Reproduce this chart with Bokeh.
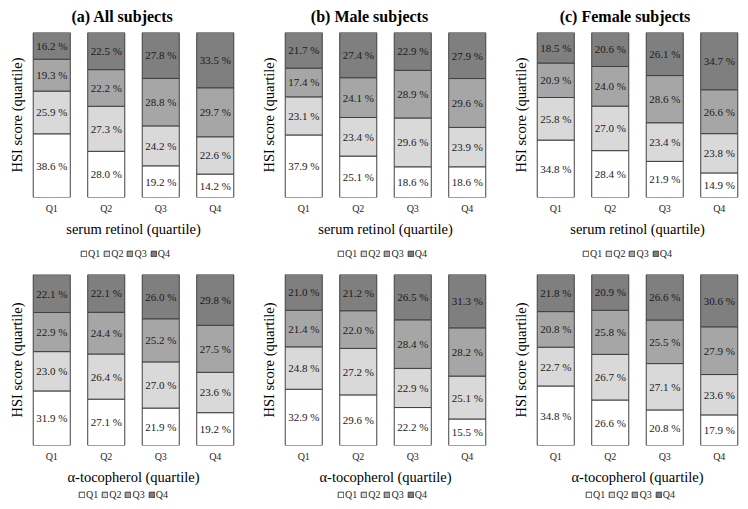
from bokeh.plotting import figure
from bokeh.layouts import column, row, Spacer
from bokeh.models import ColumnDataSource, Range1d, FixedTicker, Legend, LegendItem
from bokeh.core.properties import value
from bokeh.embed import file_html
from bokeh.resources import INLINE

exposure_quartiles = ["Q1", "Q2", "Q3", "Q4"]
hsi_quartiles = ["Q1", "Q2", "Q3", "Q4"]

# Each list: share (%) of an HSI-score quartile within exposure quartiles Q1..Q4
# (a) All subjects, serum retinol
a_hsi_q1 = [38.6, 28.0, 19.2, 14.2]
a_hsi_q2 = [25.9, 27.3, 24.2, 22.6]
a_hsi_q3 = [19.3, 22.2, 28.8, 29.7]
a_hsi_q4 = [16.2, 22.5, 27.8, 33.5]
# (b) Male subjects, serum retinol
b_hsi_q1 = [37.9, 25.1, 18.6, 18.6]
b_hsi_q2 = [23.1, 23.4, 29.6, 23.9]
b_hsi_q3 = [17.4, 24.1, 28.9, 29.6]
b_hsi_q4 = [21.7, 27.4, 22.9, 27.9]
# (c) Female subjects, serum retinol
c_hsi_q1 = [34.8, 28.4, 21.9, 14.9]
c_hsi_q2 = [25.8, 27.0, 23.4, 23.8]
c_hsi_q3 = [20.9, 24.0, 28.6, 26.6]
c_hsi_q4 = [18.5, 20.6, 26.1, 34.7]
# All subjects, alpha-tocopherol
d_hsi_q1 = [31.9, 27.1, 21.9, 19.2]
d_hsi_q2 = [23.0, 26.4, 27.0, 23.6]
d_hsi_q3 = [22.9, 24.4, 25.2, 27.5]
d_hsi_q4 = [22.1, 22.1, 26.0, 29.8]
# Male subjects, alpha-tocopherol
e_hsi_q1 = [32.9, 29.6, 22.2, 15.5]
e_hsi_q2 = [24.8, 27.2, 22.9, 25.1]
e_hsi_q3 = [21.4, 22.0, 28.4, 28.2]
e_hsi_q4 = [21.0, 21.2, 26.5, 31.3]
# Female subjects, alpha-tocopherol
f_hsi_q1 = [34.8, 26.6, 20.8, 17.9]
f_hsi_q2 = [22.7, 26.7, 27.1, 23.6]
f_hsi_q3 = [20.8, 25.8, 25.5, 27.9]
f_hsi_q4 = [21.8, 20.9, 26.6, 30.6]

titles = ["(a) All subjects", "(b) Male subjects", "(c) Female subjects"]
x_labels = ["serum retinol (quartile)", "\u03b1-tocopherol (quartile)"]
y_label = "HSI score (quartile)"

colors = ["#ffffff", "#d9d9d9", "#a6a6a6", "#7f7f7f"]
OUTLINE = "#404040"
SERIF = "Liberation Serif"
BAR_W = 0.68


def blank_figure(width, height):
    p = figure(width=width, height=height, x_range=Range1d(0, 1),
               y_range=Range1d(0, 1), x_axis_type=None, y_axis_type=None,
               output_backend="svg", toolbar_location=None, tools="",
               min_border=0)
    p.outline_line_color = None
    p.background_fill_color = None
    p.border_fill_color = None
    p.grid.visible = False
    return p


def make_title(text, width, height):
    p = blank_figure(width, height)
    p.text(x=[0.5], y=[0.5], text=[text], text_align="center",
           text_baseline="middle", text_font=value(SERIF),
           text_font_size="16px", text_font_style="bold", text_color="#000000")
    return p


def make_panel(series, xlabel, width, right, frame_h, top):
    keys = ["h1", "h2", "h3", "h4"]
    data = {"x": list(range(len(exposure_quartiles)))}
    for k, s in zip(keys, series):
        data[k] = s
    src = ColumnDataSource(data)

    bottom = 42
    p = figure(width=width, height=top + frame_h + bottom,
               x_range=Range1d(-0.5, 3.5), y_range=Range1d(0, 100),
               output_backend="svg", toolbar_location=None, tools="",
               min_border_left=24, min_border_right=right,
               min_border_top=top, min_border_bottom=bottom)
    p.outline_line_color = None
    p.background_fill_color = None
    p.border_fill_color = None
    p.xgrid.visible = False
    p.ygrid.visible = False

    p.vbar_stack(keys, x="x", width=BAR_W, source=src, color=colors,
                 line_color=OUTLINE, line_width=1)

    # labels in each segment
    tx, ty, tt = [], [], []
    for i in range(len(exposure_quartiles)):
        cum = 0.0
        for s in series:
            v = s[i]
            tx.append(i)
            ty.append(cum + v / 2.0)
            tt.append(f"{v:.1f} %")
            cum += v
    p.text(x=tx, y=ty, text=tt, text_align="center", text_baseline="middle",
           text_font=value(SERIF), text_font_size="11px", text_color="#1a1a1a")

    xa = p.xaxis[0]
    xa.ticker = FixedTicker(ticks=list(range(len(exposure_quartiles))))
    xa.major_label_overrides = {i: q for i, q in enumerate(exposure_quartiles)}
    xa.axis_line_color = None
    xa.major_tick_line_color = None
    xa.minor_tick_line_color = None
    xa.major_tick_out = 0
    xa.major_tick_in = 0
    xa.major_label_standoff = 5
    xa.major_label_text_font = SERIF
    xa.major_label_text_font_size = "10px"
    xa.major_label_text_color = "#262626"
    xa.axis_label = xlabel
    xa.axis_label_text_font = SERIF
    xa.axis_label_text_font_size = "14.5px"
    xa.axis_label_text_font_style = "normal"
    xa.axis_label_text_color = "#000000"
    xa.axis_label_standoff = 4

    ya = p.yaxis[0]
    ya.ticker = FixedTicker(ticks=[])
    ya.axis_line_color = None
    ya.major_tick_line_color = None
    ya.minor_tick_line_color = None
    ya.major_tick_out = 0
    ya.major_label_standoff = 0
    ya.axis_label = y_label
    ya.axis_label_text_font = SERIF
    ya.axis_label_text_font_size = "14.5px"
    ya.axis_label_text_font_style = "normal"
    ya.axis_label_text_color = "#000000"
    ya.axis_label_standoff = 0
    return p


def make_legend(width, height, leg_x, leg_y):
    p = blank_figure(width, height)
    # swatch carriers placed outside the visible range (only used for the legend keys)
    rs = [p.vbar(x=[5], top=[1], width=0.1, fill_color=c, line_color=OUTLINE)
          for c in colors]
    items = [LegendItem(label=q, renderers=[r]) for q, r in zip(hsi_quartiles, rs)]
    leg = Legend(items=items, orientation="horizontal", location=(leg_x, leg_y),
                 glyph_width=7, glyph_height=7, label_standoff=1, spacing=3,
                 label_text_font=SERIF, label_text_font_size="10px",
                 label_text_color="#262626", label_height=10, label_width=10,
                 padding=0, margin=0,
                 border_line_color=None, background_fill_alpha=0)
    p.add_layout(leg)
    return p


top_series = [
    [a_hsi_q1, a_hsi_q2, a_hsi_q3, a_hsi_q4],
    [b_hsi_q1, b_hsi_q2, b_hsi_q3, b_hsi_q4],
    [c_hsi_q1, c_hsi_q2, c_hsi_q3, c_hsi_q4],
]
bottom_series = [
    [d_hsi_q1, d_hsi_q2, d_hsi_q3, d_hsi_q4],
    [e_hsi_q1, e_hsi_q2, e_hsi_q3, e_hsi_q4],
    [f_hsi_q1, f_hsi_q2, f_hsi_q3, f_hsi_q4],
]
widths = [252, 252, 242]
rights = [10, 10, 0]
leg_xs_top = [80, 85, 78]
leg_xs_bot = [78, 85, 81]

title_row = row(make_title(titles[0], 244, 32), make_title(titles[1], 250, 32),
                Spacer(width=10, height=32), make_title(titles[2], 241, 32))
row1 = [make_panel(s, x_labels[0], w, r, 165, 0)
        for s, w, r in zip(top_series, widths, rights)]
leg1 = [make_legend(w, 26, lx, 6) for w, lx in zip(widths, leg_xs_top)]
row2 = [make_panel(s, x_labels[1], w, r, 171, 9)
        for s, w, r in zip(bottom_series, widths, rights)]
leg2 = [make_legend(w, 18, lx, 5) for w, lx in zip(widths, leg_xs_bot)]

layout = column(title_row, row(*row1), row(*leg1), row(*row2), row(*leg2))

open("out.html", "w").write(file_html(layout, INLINE))
